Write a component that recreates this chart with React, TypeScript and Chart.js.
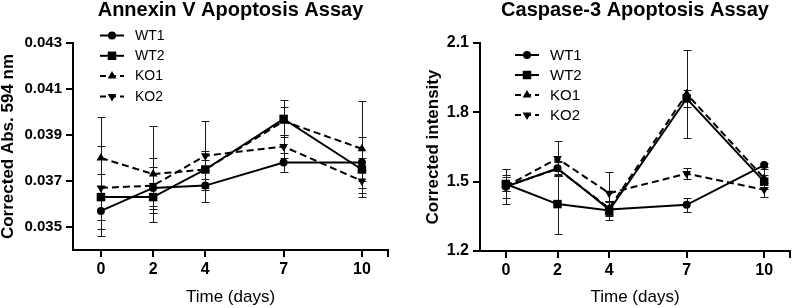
import React, { useEffect, useRef } from "react";
import { Chart, registerables } from "chart.js";

Chart.register(...registerables);

const FONT = "'Liberation Sans', Arial, Helvetica, sans-serif";
Chart.defaults.font.family = FONT;

// ---------- data ----------
const days = [0, 2, 4, 7, 10];
const xTickValues = [0, 2, 4, 7, 10, 11];
const xTickLabels = ["0", "2", "4", "7", "10", ""];
const seriesLabels = ["WT1", "WT2", "KO1", "KO2"];

// Annexin V
const annexinYTicks = [0.035, 0.037, 0.039, 0.041, 0.043];
const annexinWT1 = [0.0357, 0.0367, 0.0368, 0.0378, 0.0378];
const annexinWT2 = [0.0363, 0.0363, 0.0375, 0.0397, 0.0375];
const annexinKO1 = [0.038, 0.0373, 0.0375, 0.0396, 0.0384];
const annexinKO2 = [0.0367, 0.0368, 0.0381, 0.0385, 0.037];
const annexinWT1Err = [0.0011, 0.0009, 0.0007, 0.0004, 0.0011];
const annexinWT2Err = [0.001, 0.0004, 0.0008, 0.0008, 0.0005];
const annexinKO1Err = [0.0018, 0.0021, 0.0004, 0.0006, 0.0021];
const annexinKO2Err = [0.0018, 0.0012, 0.0015, 0.0005, 0.0005];

// Caspase-3
const caspaseYTicks = [1.2, 1.5, 1.8, 2.1];
const caspaseWT1 = [1.478, 1.558, 1.38, 1.4, 1.572];
const caspaseWT2 = [1.49, 1.403, 1.375, 1.86, 1.5];
const caspaseKO1 = [1.48, 1.555, 1.385, 1.88, 1.515];
const caspaseKO2 = [1.48, 1.6, 1.45, 1.535, 1.465];
const caspaseWT1Err = [0.075, 0.03, 0.03, 0.03, 0.01];
const caspaseWT2Err = [0.03, 0.13, 0.04, 0.035, 0.03];
const caspaseKO1Err = [0.05, 0.03, 0.03, 0.19, 0.04];
const caspaseKO2Err = [0.02, 0.075, 0.09, 0.025, 0.03];

// ---------- styles ----------
type SeriesStyle = { pointStyle: string; rotation: number; radius: number; dash: number[] };
const seriesStyles: SeriesStyle[] = [
  { pointStyle: "circle", rotation: 0, radius: 4, dash: [] },
  { pointStyle: "rect", rotation: 0, radius: 6, dash: [] },
  { pointStyle: "triangle", rotation: 0, radius: 5, dash: [7, 4] },
  { pointStyle: "triangle", rotation: 180, radius: 5, dash: [7, 4] },
];

type Panel = {
  title: string;
  yTitle: string;
  values: number[][];
  errors: number[][];
  yMin: number;
  yMax: number;
  yTicks: number[];
  decimals: number;
  xMin: number;
  yAxisWidth: number;
  xAxisHeight: number;
  padRight: number;
  yTitlePad: number;
  yTickSize: number;
  legendX: number;
  legendY: number;
  legendGap: number;
  legendFont: number;
  width: number;
};

function drawMarker(ctx: CanvasRenderingContext2D, st: SeriesStyle, x: number, y: number) {
  const r = st.radius;
  ctx.beginPath();
  if (st.pointStyle === "circle") {
    ctx.arc(x, y, r, 0, Math.PI * 2);
  } else if (st.pointStyle === "rect") {
    const s = Math.SQRT1_2 * r;
    ctx.rect(x - s, y - s, 2 * s, 2 * s);
  } else {
    const rad = (st.rotation * Math.PI) / 180;
    for (let k = 0; k < 3; k++) {
      const a = rad + (k * 2 * Math.PI) / 3 - Math.PI / 2;
      const px = x + Math.cos(a) * r;
      const py = y + Math.sin(a) * r;
      if (k === 0) ctx.moveTo(px, py);
      else ctx.lineTo(px, py);
    }
    ctx.closePath();
  }
  ctx.fill();
}

function buildConfig(panel: Panel): any {
  const datasets = panel.values.map((vals, i) => ({
    label: seriesLabels[i],
    data: days.map((d, j) => ({ x: d, y: vals[j] })),
    borderColor: "#000",
    backgroundColor: "#000",
    borderWidth: 2,
    borderDash: seriesStyles[i].dash,
    pointStyle: seriesStyles[i].pointStyle,
    pointRotation: seriesStyles[i].rotation,
    pointRadius: seriesStyles[i].radius,
    pointBorderWidth: 0,
    pointHoverRadius: seriesStyles[i].radius,
    tension: 0,
    fill: false,
  }));

  const errorBarPlugin = {
    id: "errorBars",
    beforeDatasetsDraw(chart: any) {
      const ctx: CanvasRenderingContext2D = chart.ctx;
      const xs = chart.scales.x;
      const ys = chart.scales.y;
      ctx.save();
      ctx.strokeStyle = "#1a1a1a";
      ctx.lineWidth = 1;
      ctx.setLineDash([]);
      panel.errors.forEach((errs, i) => {
        errs.forEach((e, j) => {
          const v = panel.values[i][j];
          const px = Math.round(xs.getPixelForValue(days[j])) + 0.5;
          const top = Math.round(ys.getPixelForValue(v + e)) + 0.5;
          const bot = Math.round(ys.getPixelForValue(v - e)) + 0.5;
          ctx.beginPath();
          ctx.moveTo(px, top);
          ctx.lineTo(px, bot);
          ctx.moveTo(px - 4, top);
          ctx.lineTo(px + 4, top);
          ctx.moveTo(px - 4, bot);
          ctx.lineTo(px + 4, bot);
          ctx.stroke();
        });
      });
      ctx.restore();
    },
  };

  const legendPlugin = {
    id: "customLegend",
    afterDraw(chart: any) {
      const ctx: CanvasRenderingContext2D = chart.ctx;
      ctx.save();
      seriesLabels.forEach((lab, i) => {
        const st = seriesStyles[i];
        const y = panel.legendY + i * panel.legendGap;
        const x0 = panel.legendX;
        const x1 = x0 + 24;
        ctx.strokeStyle = "#000";
        ctx.fillStyle = "#000";
        ctx.lineWidth = 2;
        ctx.setLineDash(st.dash.length ? [6, 4] : []);
        ctx.beginPath();
        ctx.moveTo(x0, y);
        ctx.lineTo(x1, y);
        ctx.stroke();
        ctx.setLineDash([]);
        drawMarker(ctx, st, (x0 + x1) / 2, y);
        ctx.font = `${panel.legendFont}px ${FONT}`;
        ctx.textAlign = "left";
        ctx.textBaseline = "middle";
        ctx.fillText(lab, x1 + 11, y + 0.5);
      });
      ctx.restore();
    },
  };

  const axisLine = { display: true, color: "#000", width: 2 };
  const gridTicks = {
    display: true,
    drawOnChartArea: false,
    drawTicks: true,
    tickLength: 7,
    color: "#000",
    lineWidth: 2,
  };

  return {
    type: "line",
    data: { datasets },
    plugins: [errorBarPlugin, legendPlugin],
    options: {
      responsive: false,
      animation: false,
      devicePixelRatio: 1,
      layout: { padding: { left: 0, right: panel.padRight, top: 0, bottom: 0 } },
      plugins: {
        legend: { display: false },
        tooltip: { enabled: false },
        title: {
          display: true,
          text: panel.title,
          fullSize: false,
          color: "#000",
          font: { size: 20, weight: "bold", lineHeight: 1, family: FONT },
          padding: { top: 0, bottom: 23 },
        },
      },
      scales: {
        x: {
          type: "linear",
          min: panel.xMin,
          max: 11,
          afterBuildTicks: (s: any) => {
            s.ticks = xTickValues.map((v) => ({ value: v }));
          },
          afterFit: (s: any) => {
            s.height = panel.xAxisHeight;
          },
          ticks: {
            autoSkip: false,
            maxRotation: 0,
            padding: 3,
            color: "#000",
            font: { size: 16, weight: "bold", family: FONT },
            callback: (v: any) => {
              const k = xTickValues.indexOf(Number(v));
              return k >= 0 ? xTickLabels[k] : "";
            },
          },
          grid: gridTicks,
          border: axisLine,
          title: {
            display: true,
            text: "Time (days)",
            color: "#000",
            font: { size: 17, lineHeight: 1, family: FONT },
            padding: { top: 0, bottom: 2.5 },
          },
        },
        y: {
          type: "linear",
          min: panel.yMin,
          max: panel.yMax,
          afterBuildTicks: (s: any) => {
            s.ticks = panel.yTicks.map((v) => ({ value: v }));
          },
          afterFit: (s: any) => {
            s.width = panel.yAxisWidth;
          },
          ticks: {
            padding: 4,
            color: "#000",
            font: { size: panel.yTickSize, weight: "bold", family: FONT },
            callback: (v: any) => Number(v).toFixed(panel.decimals),
          },
          grid: gridTicks,
          border: axisLine,
          title: {
            display: true,
            text: panel.yTitle,
            color: "#000",
            font: { size: 17, weight: "bold", lineHeight: 1, family: FONT },
            padding: { top: panel.yTitlePad, bottom: 0 },
          },
        },
      },
    },
  };
}

const annexinPanel: Panel = {
  title: "Annexin V Apoptosis Assay",
  yTitle: "Corrected Abs. 594 nm",
  values: [annexinWT1, annexinWT2, annexinKO1, annexinKO2],
  errors: [annexinWT1Err, annexinWT2Err, annexinKO1Err, annexinKO2Err],
  yMin: 0.034,
  yMax: 0.043,
  yTicks: annexinYTicks,
  decimals: 3,
  xMin: -1.07,
  yAxisWidth: 73,
  xAxisHeight: 58,
  padRight: 12,
  yTitlePad: 0,
  yTickSize: 15,
  legendX: 100,
  legendY: 35.5,
  legendGap: 20.3,
  legendFont: 14,
  width: 400,
};

const caspasePanel: Panel = {
  title: "Caspase-3 Apoptosis Assay",
  yTitle: "Corrected intensity",
  values: [caspaseWT1, caspaseWT2, caspaseKO1, caspaseKO2],
  errors: [caspaseWT1Err, caspaseWT2Err, caspaseKO1Err, caspaseKO2Err],
  yMin: 1.2,
  yMax: 2.1,
  yTicks: caspaseYTicks,
  decimals: 1,
  xMin: -1,
  yAxisWidth: 80,
  xAxisHeight: 57,
  padRight: 1,
  yTitlePad: 25,
  yTickSize: 16,
  legendX: 115,
  legendY: 55,
  legendGap: 20,
  legendFont: 15,
  width: 396,
};

function PanelChart({ panel }: { panel: Panel }) {
  const ref = useRef<HTMLCanvasElement | null>(null);
  useEffect(() => {
    if (!ref.current) return;
    const chart = new Chart(ref.current, buildConfig(panel));
    return () => chart.destroy();
  }, [panel]);
  return (
    <canvas
      ref={ref}
      width={panel.width}
      height={308}
      style={{ display: "block", width: panel.width, height: 308 }}
    />
  );
}

export default function App() {
  return (
    <div
      style={{
        position: "absolute",
        left: 0,
        top: 0,
        width: 796,
        height: 308,
        display: "flex",
        flexDirection: "row",
        background: "#fff",
      }}
    >
      <PanelChart panel={annexinPanel} />
      <PanelChart panel={caspasePanel} />
    </div>
  );
}
